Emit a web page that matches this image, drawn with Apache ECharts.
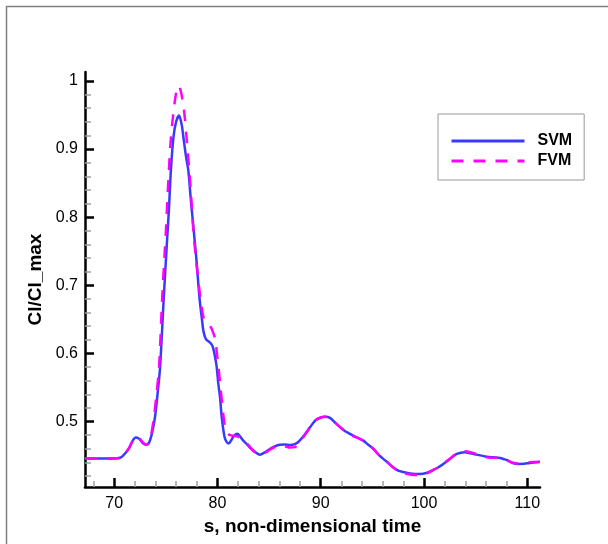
<!DOCTYPE html>
<html>
<head>
<meta charset="utf-8">
<script src="https://cdn.jsdelivr.net/npm/echarts@6/dist/echarts.min.js"></script>
<style>
  html, body { margin: 0; padding: 0; background: #fff; }
  #myChart { width: 608px; height: 544px; }
</style>
</head>
<body>
<div id="myChart"></div>
<script>
// SVM curve (s, Cl/Cl_max)
var svm_s = [67.18, 68, 69, 70, 70.5, 70.8, 71.4, 71.8, 72.1, 72.4, 72.8, 73.1, 73.35, 73.65, 73.95, 74.2, 74.45, 74.8, 75.1, 75.3, 75.5, 75.75, 76.0, 76.28, 76.55, 76.7, 76.95, 77.18, 77.4, 77.61, 77.8, 78.0, 78.15, 78.32, 78.48, 78.63, 78.8, 78.95, 79.2, 79.45, 79.6, 79.77, 79.93, 80.09, 80.25, 80.42, 80.6, 80.74, 80.95, 81.1, 81.35, 81.6, 81.93, 82.2, 82.5, 82.84, 83.2, 83.5, 84.12, 84.6, 85.1, 85.6, 86.06, 86.5, 87.03, 87.5, 87.83, 88.4, 88.96, 89.5, 90.0, 90.42, 90.9, 91.5, 92.19, 92.7, 93.16, 93.6, 94.12, 94.6, 95.09, 95.7, 96.4, 97.0, 97.5, 98.0, 98.64, 99.61, 100.3, 100.9, 101.4, 101.87, 102.5, 103.17, 103.97, 104.5, 105.1, 106.07, 106.7, 107.36, 107.8, 108.16, 108.6, 109.13, 109.7, 110.26, 111.23]
var svm_cl = [0.446, 0.446, 0.446, 0.446, 0.4465, 0.449, 0.460, 0.472, 0.4765, 0.475, 0.468, 0.466, 0.468, 0.482, 0.506, 0.540, 0.580, 0.680, 0.760, 0.810, 0.870, 0.918, 0.940, 0.949, 0.935, 0.918, 0.890, 0.869, 0.830, 0.796, 0.765, 0.732, 0.702, 0.673, 0.653, 0.634, 0.624, 0.620, 0.617, 0.613, 0.607, 0.595, 0.580, 0.555, 0.536, 0.506, 0.485, 0.4745, 0.469, 0.468, 0.473, 0.479, 0.482, 0.478, 0.472, 0.467, 0.461, 0.457, 0.4515, 0.455, 0.460, 0.464, 0.466, 0.4665, 0.4657, 0.467, 0.470, 0.480, 0.4916, 0.502, 0.506, 0.507, 0.5054, 0.497, 0.4878, 0.483, 0.4794, 0.476, 0.472, 0.466, 0.460, 0.450, 0.441, 0.433, 0.428, 0.426, 0.424, 0.423, 0.425, 0.429, 0.433, 0.4378, 0.445, 0.4525, 0.455, 0.4535, 0.4515, 0.4485, 0.4475, 0.4466, 0.4445, 0.4426, 0.439, 0.4378, 0.438, 0.4393, 0.4407]

// FVM curve
var fvm_s = [67.18, 68, 69, 70, 70.5, 70.8, 71.4, 71.8, 72.1, 72.4, 72.8, 73.1, 73.35, 73.6, 73.85, 74.1, 74.35, 74.65, 74.9, 75.02, 75.25, 75.48, 75.73, 76.0, 76.25, 76.5, 76.8, 77.03, 77.35, 77.67, 77.95, 78.2, 78.45, 78.65, 78.9, 79.15, 79.45, 79.8, 79.95, 80.1, 80.3, 80.5, 80.74, 81.0, 81.22, 81.6, 82.0, 82.4, 82.84, 83.2, 83.5, 84.12, 84.6, 85.1, 85.6, 86.06, 86.5, 87.03, 87.5, 87.9, 88.4, 88.96, 89.5, 90.0, 90.42, 90.9, 91.5, 92.19, 92.7, 93.16, 93.6, 94.12, 94.6, 95.09, 95.7, 96.4, 97.0, 97.5, 98.0, 98.64, 99.61, 100.3, 100.9, 101.4, 101.87, 102.5, 103.17, 103.97, 104.5, 105.1, 106.07, 106.7, 107.36, 107.8, 108.16, 108.6, 109.13, 109.7, 110.26, 111.23]
var fvm_cl = [0.446, 0.446, 0.446, 0.446, 0.4465, 0.449, 0.460, 0.472, 0.4775, 0.476, 0.469, 0.466, 0.469, 0.482, 0.506, 0.540, 0.580, 0.680, 0.750, 0.781, 0.854, 0.913, 0.952, 0.982, 0.993, 0.982, 0.952, 0.913, 0.854, 0.781, 0.735, 0.700, 0.670, 0.653, 0.647, 0.643, 0.636, 0.620, 0.600, 0.580, 0.550, 0.520, 0.492, 0.483, 0.480, 0.479, 0.478, 0.473, 0.468, 0.462, 0.457, 0.452, 0.454, 0.459, 0.463, 0.465, 0.464, 0.462, 0.4625, 0.468, 0.479, 0.491, 0.502, 0.506, 0.507, 0.5055, 0.497, 0.488, 0.482, 0.4785, 0.476, 0.472, 0.466, 0.460, 0.450, 0.441, 0.433, 0.4275, 0.4245, 0.4225, 0.4215, 0.424, 0.429, 0.433, 0.438, 0.4455, 0.453, 0.4565, 0.455, 0.452, 0.4475, 0.447, 0.4465, 0.4445, 0.442, 0.4395, 0.4385, 0.4395, 0.4405, 0.441]

// tick values
var x_major = [70, 80, 90, 100, 110]
var x_minor = [68, 72, 74, 76, 78, 82, 84, 86, 88, 92, 94, 96, 98, 102, 104, 106, 108]
var y_major = [0.5, 0.6, 0.7, 0.8, 0.9, 1]
var y_minor = [0.42, 0.44, 0.46, 0.48, 0.52, 0.54, 0.56, 0.58, 0.62, 0.64, 0.66, 0.68, 0.72, 0.74, 0.76, 0.78, 0.82, 0.84, 0.86, 0.88, 0.92, 0.94, 0.96, 0.98]

var font = "'Liberation Sans', Arial, sans-serif"

function pairs(xs, ys) {
  var out = []
  for (var i = 0; i < xs.length; i++) out.push([xs[i], ys[i]])
  return out
}

let myChart = echarts.init(document.getElementById('myChart'))
myChart.setOption({
  animation: false,
  graphic: [{
    type: 'rect',
    shape: { x: 6.5, y: 6.5, width: 800, height: 800 },
    style: { fill: 'none', stroke: '#7f7f7f', lineWidth: 1.5 },
    silent: true
  }],
  grid: { left: 85, top: 72, width: 455, height: 415 },
  legend: {
    orient: 'vertical',
    left: 438,
    top: 114,
    padding: [19, 12, 11, 12],
    itemWidth: 73,
    itemHeight: 16,
    itemGap: 4,
    borderColor: '#999',
    borderWidth: 1,
    backgroundColor: '#fff',
    itemStyle: { opacity: 0 },
    lineStyle: { width: 3 },
    textStyle: { fontFamily: font, fontSize: 16, fontWeight: 'bold', color: '#000', padding: [0, 0, 0, 8] },
    data: ['SVM', 'FVM']
  },
  xAxis: [{
    type: 'value',
    min: 67.18, max: 111.23,
    name: 's, non-dimensional time',
    nameLocation: 'middle',
    nameGap: 26,
    nameTextStyle: { fontFamily: font, fontSize: 19, fontWeight: 'bold', color: '#000' },
    axisLine: { onZero: false, lineStyle: { color: '#000', width: 2.5 } },
    axisTick: { inside: true, length: 9, customValues: x_major, lineStyle: { color: '#000', width: 2.5 } },
    axisLabel: { customValues: x_major, margin: 9, fontFamily: font, fontSize: 16, color: '#000' },
    splitLine: { show: false }
  }, {
    type: 'value',
    position: 'bottom',
    min: 67.18, max: 111.23,
    axisLine: { show: false, onZero: false },
    axisTick: { inside: true, length: 6, customValues: x_minor, lineStyle: { color: '#a0a0a0', width: 1.5 } },
    axisLabel: { show: false },
    splitLine: { show: false }
  }],
  yAxis: [{
    type: 'value',
    min: 0.404, max: 1.013,
    name: 'Cl/Cl_max',
    nameLocation: 'middle',
    nameGap: 33,
    nameTextStyle: { fontFamily: font, fontSize: 19, fontWeight: 'bold', color: '#000' },
    axisLine: { show: true, onZero: false, lineStyle: { color: '#000', width: 2.5 } },
    axisTick: { show: true, inside: true, length: 9, customValues: y_major, lineStyle: { color: '#000', width: 2.5 } },
    axisLabel: { customValues: y_major, margin: 7, fontFamily: font, fontSize: 16, color: '#000' },
    splitLine: { show: false }
  }, {
    type: 'value',
    position: 'left',
    min: 0.404, max: 1.013,
    axisLine: { show: false, onZero: false },
    axisTick: { show: true, inside: true, length: 6, customValues: y_minor, lineStyle: { color: '#a0a0a0', width: 1.5 } },
    axisLabel: { show: false },
    splitLine: { show: false }
  }],
  series: [{
    name: 'SVM',
    type: 'line',
    xAxisIndex: 0, yAxisIndex: 0,
    data: pairs(svm_s, svm_cl),
    smooth: 0.3,
    showSymbol: false,
    symbol: 'none',
    lineStyle: { color: '#3a3aff', width: 2.5 },
    itemStyle: { color: '#3a3aff' },
    z: 2
  }, {
    name: 'FVM',
    type: 'line',
    xAxisIndex: 0, yAxisIndex: 0,
    data: pairs(fvm_s, fvm_cl),
    smooth: 0.3,
    showSymbol: false,
    symbol: 'none',
    lineStyle: { color: '#ff00ff', width: 2.5, type: [12, 10] },
    itemStyle: { color: '#ff00ff' },
    z: 3
  }]
})
</script>
</body>
</html>
